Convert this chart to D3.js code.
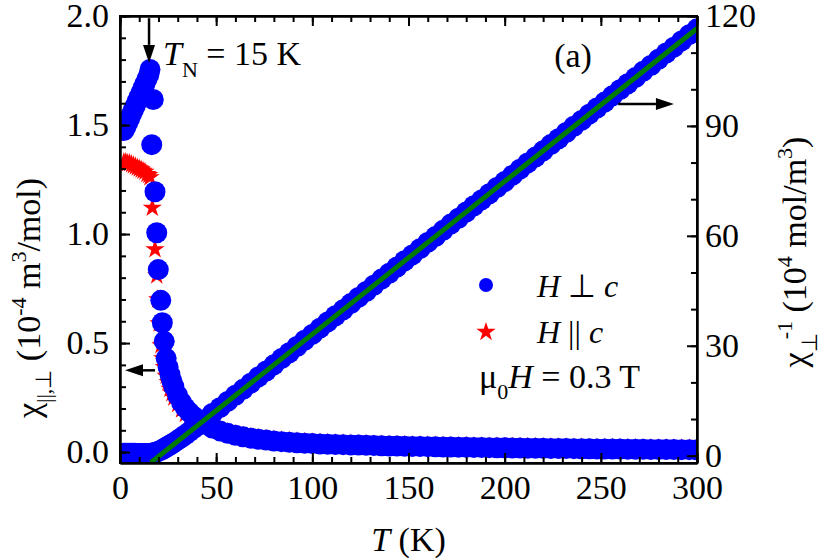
<!DOCTYPE html>
<html>
<head>
<meta charset="utf-8">
<script src="https://cdn.jsdelivr.net/npm/d3@7"></script>
<style>
  body { margin: 0; background: #fff; }
  svg { font-family: 'Liberation Serif', 'Times New Roman', serif; }
</style>
</head>
<body>
<div id="chart"></div>
<script>
// H ⊥ c, chi (10^-4 m^3/mol) below and around T_N
const tPerpLow = [2, 3, 4, 5, 6, 7, 8, 9, 10, 11, 12, 13, 14, 15, 15.6, 16.5, 17.3, 18.2, 19.1, 19.9, 21.2, 22.0, 23.0]
const chiPerpLow = [1.475, 1.49, 1.51, 1.53, 1.55, 1.57, 1.59, 1.61, 1.63, 1.65, 1.67, 1.69, 1.71, 1.73, 1.755, 1.41, 1.617, 1.194, 1.006, 0.837, 0.696, 0.593, 0.508]
// inverse chi (10^4 mol/m^3), same temperatures
const invPerpLow = [0.68, 0.67, 0.66, 0.65, 0.65, 0.64, 0.63, 0.62, 0.61, 0.61, 0.60, 0.59, 0.58, 0.58, 0.57, 0.71, 0.62, 0.84, 0.99, 1.19, 1.44, 1.69, 1.97]

// H || c below and around T_N
const tParaLow = [2, 3, 4, 5, 6, 7, 8, 9, 10, 11, 12, 13, 14, 15, 15.6, 16.8, 18.2, 19.1, 19.6, 20.3, 21.3, 22.2, 23.0]
const chiParaLow = [1.33, 1.33, 1.325, 1.325, 1.32, 1.315, 1.31, 1.305, 1.30, 1.295, 1.29, 1.285, 1.275, 1.27, 1.26, 1.12, 0.93, 0.81, 0.70, 0.59, 0.49, 0.43, 0.39]

// paramagnetic region
const tTail = [24, 25, 26, 27, 28, 30, 32, 34, 36, 38,
  40, 44, 48, 52, 56, 60, 64, 68, 72, 76,
  80, 84, 88, 92, 96, 100, 104, 108, 112, 116,
  120, 124, 128, 132, 136, 140, 144, 148, 152, 156,
  160, 164, 168, 172, 176, 180, 184, 188, 192, 196,
  200, 204, 208, 212, 216, 220, 224, 228, 232, 236,
  240, 244, 248, 252, 256, 260, 264, 268, 272, 276,
  280, 284, 288, 292, 296, 300]
const chiPerpTail = [0.43, 0.39, 0.355, 0.325, 0.30, 0.26, 0.228, 0.203, 0.183, 0.166,
  0.152, 0.128, 0.110, 0.097, 0.086, 0.077, 0.070, 0.064, 0.059, 0.055,
  0.051, 0.048, 0.045, 0.043, 0.041, 0.039, 0.037, 0.036, 0.035, 0.034,
  0.033, 0.032, 0.031, 0.030, 0.029, 0.028, 0.0275, 0.027, 0.026, 0.0255,
  0.025, 0.024, 0.0235, 0.023, 0.0225, 0.022, 0.0215, 0.021, 0.0205, 0.020,
  0.0195, 0.019, 0.0185, 0.018, 0.0177, 0.0173, 0.017, 0.0165, 0.016, 0.0157,
  0.0153, 0.015, 0.0147, 0.0143, 0.014, 0.0137, 0.0133, 0.013, 0.0127, 0.0123,
  0.012, 0.0117, 0.0115, 0.0113, 0.011, 0.0108]
const chiParaTail = [0.35, 0.32, 0.29, 0.27, 0.25, 0.22, 0.195, 0.175, 0.16, 0.148,
  0.138, 0.122, 0.110, 0.102, 0.092, 0.083, 0.076, 0.070, 0.065, 0.061,
  0.057, 0.054, 0.051, 0.049, 0.047, 0.045, 0.043, 0.042, 0.041, 0.040,
  0.039, 0.038, 0.037, 0.036, 0.035, 0.034, 0.0335, 0.033, 0.032, 0.0315,
  0.031, 0.030, 0.0295, 0.029, 0.0285, 0.028, 0.0275, 0.027, 0.0265, 0.026,
  0.0255, 0.025, 0.0245, 0.024, 0.0237, 0.0233, 0.023, 0.0225, 0.022, 0.0217,
  0.0213, 0.021, 0.0207, 0.0203, 0.020, 0.0197, 0.0193, 0.019, 0.0187, 0.0183,
  0.018, 0.0177, 0.0175, 0.0173, 0.017, 0.0168]
const invPerpTail = [2.3, 2.6, 2.9, 3.2, 3.55, 4.25, 4.95, 5.7, 6.5, 7.3,
  8.1, 9.8, 11.5, 13.1, 14.8, 16.5, 18.1, 19.8, 21.5, 23.1,
  24.8, 26.5, 28.1, 29.8, 31.5, 33.1, 34.8, 36.5, 38.2, 39.8,
  41.5, 43.2, 44.8, 46.5, 48.2, 49.8, 51.5, 53.2, 54.8, 56.5,
  58.2, 59.8, 61.5, 63.2, 64.8, 66.5, 68.2, 69.8, 71.5, 73.2,
  74.8, 76.5, 78.2, 79.9, 81.5, 83.2, 84.9, 86.5, 88.2, 89.9,
  91.5, 93.2, 94.9, 96.5, 98.2, 99.9, 101.5, 103.2, 104.9, 106.5,
  108.2, 109.9, 111.5, 113.2, 114.9, 116.5]

// Curie-Weiss fit, end points
const fitT = [16, 300]
const fitInv = [-1.9, 116.6]

// ticks
const xTicks = [0, 50, 100, 150, 200, 250, 300]
const yLTicks = [0, 0.5, 1.0, 1.5, 2.0]
const yRTicks = [0, 30, 60, 90, 120]

const width = 830
const height = 560
const margin = { top: 16, right: 133, bottom: 97, left: 120 }
const fs = 34
const fsSub = 22

const svg = d3.select('#chart').append('svg')
  .attr('width', width)
  .attr('height', height)

const x = d3.scaleLinear().domain([0, 300]).range([margin.left, width - margin.right])
const yL = d3.scaleLinear().domain([-0.05, 2.0]).range([height - margin.bottom, margin.top])
const yR = d3.scaleLinear().domain([-2, 120]).range([height - margin.bottom, margin.top])

svg.append('clipPath').attr('id', 'clip')
  .append('rect')
  .attr('x', margin.left).attr('y', margin.top)
  .attr('width', width - margin.left - margin.right)
  .attr('height', height - margin.top - margin.bottom)

const zip = (ts, vs) => ts.map((t, i) => ({ t: t, v: vs[i] }))
const perp = zip(tPerpLow.concat(tTail), chiPerpLow.concat(chiPerpTail))
const para = zip(tParaLow.concat(tTail), chiParaLow.concat(chiParaTail))
const inv = zip(tPerpLow.concat(tTail), invPerpLow.concat(invPerpTail))

const plot = svg.append('g').attr('clip-path', 'url(#clip)')

const star = d3.symbol().type(d3.symbolStar).size(115)

// H || c stars
plot.append('g').selectAll('path').data(para).enter()
  .append('path')
  .attr('d', star)
  .attr('transform', d => `translate(${x(d.t)},${yL(d.v)})`)
  .style('fill', '#ff0000')

// H ⊥ c circles
plot.append('g').selectAll('circle').data(perp).enter()
  .append('circle')
  .attr('cx', d => x(d.t))
  .attr('cy', d => yL(d.v))
  .attr('r', 10.5)
  .style('fill', '#0000ff')

// inverse susceptibility
plot.append('g').selectAll('circle').data(inv).enter()
  .append('circle')
  .attr('cx', d => x(d.t))
  .attr('cy', d => yR(d.v))
  .attr('r', 10.5)
  .style('fill', '#0000ff')

// fit line
plot.append('path')
  .datum(zip(fitT, fitInv))
  .attr('d', d3.line().x(d => x(d.t)).y(d => yR(d.v)))
  .style('fill', 'none')
  .style('stroke', '#007a00')
  .style('stroke-width', 5)

// axes
const bottom = height - margin.bottom
function styleAxis(g) {
  g.selectAll('path, line').style('stroke', '#000').style('stroke-width', 2)
  g.selectAll('text').style('font-size', fs + 'px').style('fill', '#000')
    .style('font-family', "'Liberation Serif', 'Times New Roman', serif")
}

// minor ticks
svg.append('g').attr('transform', `translate(0,${bottom})`)
  .call(d3.axisBottom(x).tickValues(d3.range(0, 301, 10)).tickSizeInner(-6).tickSizeOuter(0).tickFormat(''))
  .call(styleAxis)
svg.append('g').attr('transform', `translate(0,${margin.top})`)
  .call(d3.axisTop(x).tickValues(d3.range(0, 301, 10)).tickSizeInner(-6).tickSizeOuter(0).tickFormat(''))
  .call(styleAxis)
svg.append('g').attr('transform', `translate(${margin.left},0)`)
  .call(d3.axisLeft(yL).tickValues(d3.range(0, 2.01, 0.1)).tickSizeInner(-6).tickSizeOuter(0).tickFormat(''))
  .call(styleAxis)
svg.append('g').attr('transform', `translate(${width - margin.right},0)`)
  .call(d3.axisRight(yR).tickValues(d3.range(0, 121, 10)).tickSizeInner(-6).tickSizeOuter(0).tickFormat(''))
  .call(styleAxis)

// major ticks + labels
svg.append('g').attr('transform', `translate(0,${bottom})`)
  .call(d3.axisBottom(x).tickValues(xTicks).tickSizeInner(-10).tickSizeOuter(0).tickPadding(12))
  .call(styleAxis)
svg.append('g').attr('transform', `translate(0,${margin.top})`)
  .call(d3.axisTop(x).tickValues(xTicks).tickSizeInner(-10).tickSizeOuter(0).tickFormat(''))
  .call(styleAxis)
svg.append('g').attr('transform', `translate(${margin.left},0)`)
  .call(d3.axisLeft(yL).tickValues(yLTicks).tickFormat(d3.format('.1f')).tickSizeInner(-10).tickSizeOuter(0).tickPadding(11))
  .call(styleAxis)
svg.append('g').attr('transform', `translate(${width - margin.right},0)`)
  .call(d3.axisRight(yR).tickValues(yRTicks).tickSizeInner(-10).tickSizeOuter(0).tickPadding(8))
  .call(styleAxis)

// frame
svg.append('rect')
  .attr('x', margin.left).attr('y', margin.top)
  .attr('width', width - margin.left - margin.right)
  .attr('height', height - margin.top - margin.bottom)
  .style('fill', 'none').style('stroke', '#000').style('stroke-width', 2)

// axis titles
const xt = svg.append('text')
  .attr('x', (margin.left + width - margin.right) / 2)
  .attr('y', 551)
  .attr('text-anchor', 'middle')
  .style('font-size', fs + 'px')
xt.append('tspan').style('font-style', 'italic').text('T')
xt.append('tspan').text(' (K)')

const lt = svg.append('text')
  .attr('transform', 'translate(40,298) rotate(-90)')
  .attr('text-anchor', 'middle')
  .style('font-size', fs + 'px')
lt.append('tspan').text('χ')
lt.append('tspan').attr('dy', 11).style('font-size', fsSub + 'px').text('||,⊥')
lt.append('tspan').attr('dy', -11).text(' (10')
lt.append('tspan').attr('dy', -14).style('font-size', fsSub + 'px').text('-4')
lt.append('tspan').attr('dy', 14).text(' m')
lt.append('tspan').attr('dy', -14).style('font-size', fsSub + 'px').text('3')
lt.append('tspan').attr('dy', 14).text('/mol)')

const rt = svg.append('text')
  .attr('transform', 'translate(806,252) rotate(-90)')
  .attr('text-anchor', 'middle')
  .style('font-size', fs + 'px')
rt.append('tspan').text('χ')
rt.append('tspan').attr('dy', 11).style('font-size', fsSub + 'px').text('⊥')
rt.append('tspan').attr('dy', -25).attr('dx', -6).style('font-size', fsSub + 'px').text('-1')
rt.append('tspan').attr('dy', 14).text(' (10')
rt.append('tspan').attr('dy', -14).style('font-size', fsSub + 'px').text('4')
rt.append('tspan').attr('dy', 14).text(' mol/m')
rt.append('tspan').attr('dy', -14).style('font-size', fsSub + 'px').text('3')
rt.append('tspan').attr('dy', 14).text(')')

// annotations
const tn = svg.append('text').attr('x', 163).attr('y', 65).style('font-size', fs + 'px')
tn.append('tspan').style('font-style', 'italic').text('T')
tn.append('tspan').attr('dy', 12).style('font-size', fsSub + 'px').text('N')
tn.append('tspan').attr('dy', -12).text(' = 15 K')

svg.append('text').attr('x', 573).attr('y', 67).attr('text-anchor', 'middle')
  .style('font-size', fs + 'px').text('(a)')

function arrow(x1, y1, x2, y2) {
  const a = Math.atan2(y2 - y1, x2 - x1)
  const len = 18, w = 6
  const bx = x2 - len * Math.cos(a), by = y2 - len * Math.sin(a)
  svg.append('line')
    .attr('x1', x1).attr('y1', y1).attr('x2', bx).attr('y2', by)
    .style('stroke', '#000').style('stroke-width', 2.5)
  const px = -Math.sin(a) * w, py = Math.cos(a) * w
  svg.append('path')
    .attr('d', `M${x2},${y2}L${bx + px},${by + py}L${bx - px},${by - py}Z`)
    .style('fill', '#000')
}
arrow(x(15.1), yL(1.99), x(15.1), yL(1.785))
arrow(x(18.2), yL(0.375), x(2.6), yL(0.375))
arrow(x(259), yR(96), x(288), yR(96))

// legend
const lg = svg.append('g').style('font-size', fs + 'px')
lg.append('circle').attr('cx', 486).attr('cy', 285).attr('r', 7).style('fill', '#0000ff')
lg.append('path').attr('d', star).attr('transform', 'translate(486,332)').style('fill', '#ff0000')
const l1 = lg.append('text').attr('x', 537).attr('y', 297).style('font-size', '32px')
l1.append('tspan').style('font-style', 'italic').text('H')
l1.append('tspan').text(' ⊥ ')
l1.append('tspan').style('font-style', 'italic').text('c')
const l2 = lg.append('text').attr('x', 537).attr('y', 343).style('font-size', '32px')
l2.append('tspan').style('font-style', 'italic').text('H')
l2.append('tspan').text(' || ')
l2.append('tspan').style('font-style', 'italic').text('c')
const l3 = lg.append('text').attr('x', 479).attr('y', 388)
l3.append('tspan').text('μ')
l3.append('tspan').attr('dy', 11).style('font-size', fsSub + 'px').text('0')
l3.append('tspan').attr('dy', -11).style('font-style', 'italic').text('H')
l3.append('tspan').text(' = 0.3 T')
</script>
</body>
</html>
